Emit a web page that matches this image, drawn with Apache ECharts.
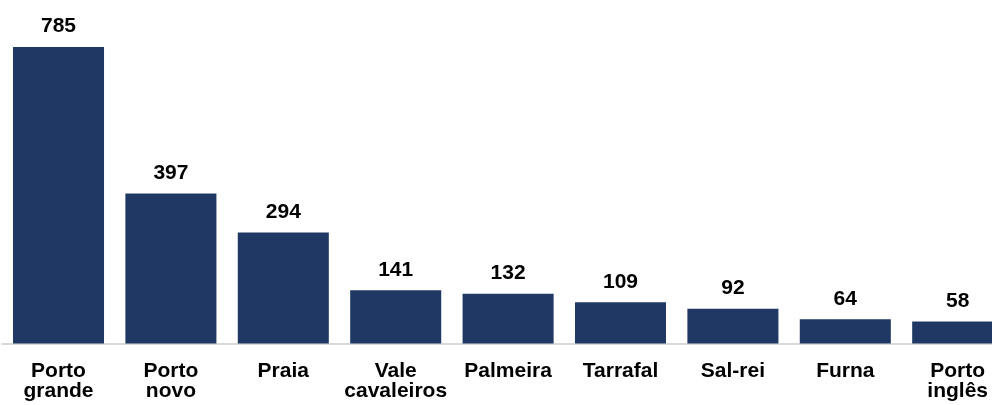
<!DOCTYPE html>
<html><head><meta charset="utf-8">
<script src="https://cdn.jsdelivr.net/npm/echarts@6/dist/echarts.min.js"></script>
<style>html,body{margin:0;padding:0;background:#fff}#c{width:992px;height:405px}</style>
</head><body><div id="c"></div>
<script>
var categories = ["Porto\ngrande", "Porto\nnovo", "Praia", "Vale\ncavaleiros", "Palmeira", "Tarrafal", "Sal-rei", "Furna", "Porto\ninglês"];
var values = [785, 397, 294, 141, 132, 109, 92, 64, 58];
var chart = echarts.init(document.getElementById('c'));
chart.setOption({
  animation: false,
  grid: { left: 2.3, top: 41.3, width: 1011.6, bottom: 61.5, outerBoundsMode: 'none', containLabel: false },
  xAxis: {
    type: 'category', data: categories,
    axisLine: { lineStyle: { color: '#d9d9d9', width: 2 } },
    axisTick: { show: false },
    axisLabel: { interval: 0, color: '#000', fontFamily: 'Liberation Sans, Arial', fontWeight: 'bold', fontSize: 21, lineHeight: 20, margin: 18 }
  },
  yAxis: { type: 'value', min: 0, max: 800, show: false, splitLine: { show: false } },
  series: [{
    type: 'bar', data: values, barCategoryGap: '19%',
    itemStyle: { color: '#203864' },
    label: { show: true, position: 'top', distance: 10, color: '#000', fontFamily: 'Liberation Sans, Arial', fontWeight: 'bold', fontSize: 21 }
  }]
});
</script></body></html>
